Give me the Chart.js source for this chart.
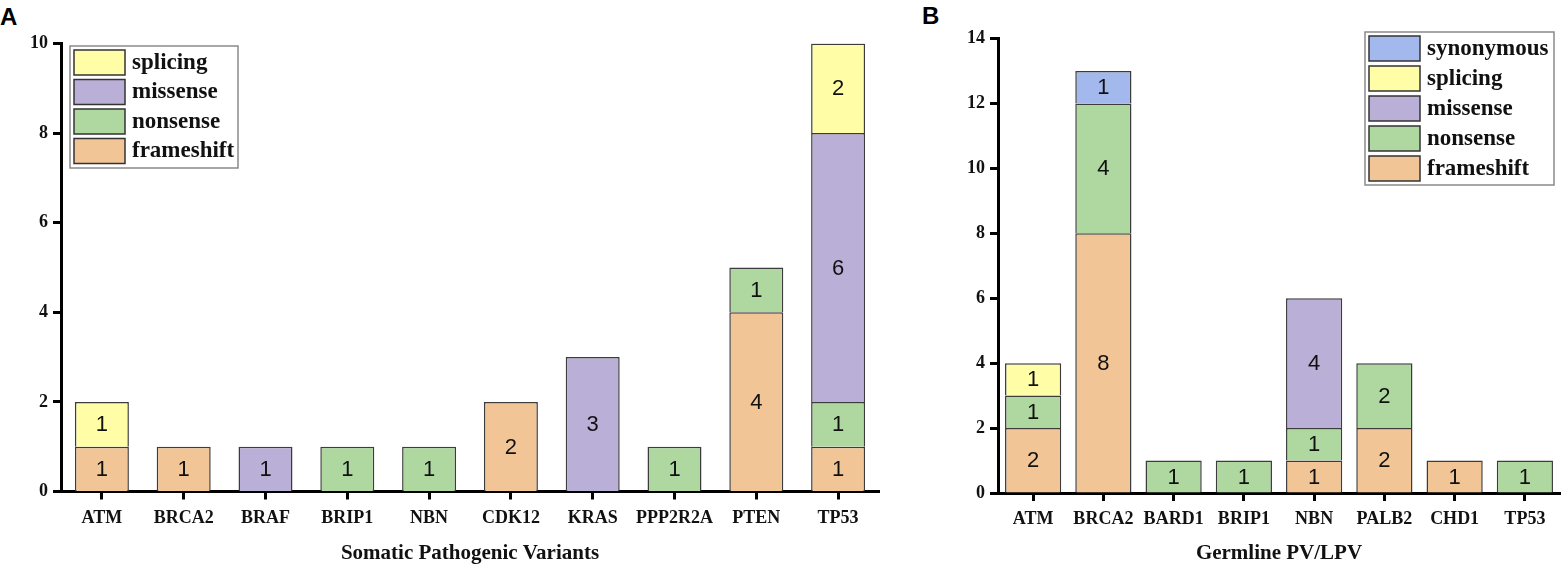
<!DOCTYPE html>
<html>
<head>
<meta charset="utf-8">
<script src="https://cdn.jsdelivr.net/npm/chart.js@4.4.0/dist/chart.umd.min.js"></script>
<style>
  html, body { margin: 0; padding: 0; background: #fff; }
  body { width: 1562px; height: 565px; position: relative; overflow: hidden; }
  .wrap { position: absolute; top: 0; height: 565px; }
  .tag { position: absolute; font: bold 24px "Liberation Sans", Arial, sans-serif; line-height: 1; color: #000; }
</style>
</head>
<body>
<div class="tag" style="left:0px;top:5px">A</div>
<div class="tag" style="left:922px;top:4px">B</div>
<div class="wrap" style="left:0px;width:905px"><canvas id="chartA"></canvas></div>
<div class="wrap" style="left:905px;width:657px"><canvas id="chartB"></canvas></div>
<script>
// Panel A - somatic
const somaticGenes = ['ATM', 'BRCA2', 'BRAF', 'BRIP1', 'NBN', 'CDK12', 'KRAS', 'PPP2R2A', 'PTEN', 'TP53'];
const somaticFrameshift = [1, 1, 0, 0, 0, 2, 0, 0, 4, 1];
const somaticNonsense   = [0, 0, 0, 1, 1, 0, 0, 1, 1, 1];
const somaticMissense   = [0, 0, 1, 0, 0, 0, 3, 0, 0, 6];
const somaticSplicing   = [1, 0, 0, 0, 0, 0, 0, 0, 0, 2];
const somaticTicks = [0, 2, 4, 6, 8, 10];

// Panel B - germline
const germlineGenes = ['ATM', 'BRCA2', 'BARD1', 'BRIP1', 'NBN', 'PALB2', 'CHD1', 'TP53'];
const germlineFrameshift = [2, 8, 0, 0, 1, 2, 1, 0];
const germlineNonsense   = [1, 4, 1, 1, 1, 2, 0, 1];
const germlineMissense   = [0, 0, 0, 0, 4, 0, 0, 0];
const germlineSplicing   = [1, 0, 0, 0, 0, 0, 0, 0];
const germlineSynonymous = [0, 1, 0, 0, 0, 0, 0, 0];
const germlineTicks = [0, 2, 4, 6, 8, 10, 12, 14];

const colors = {
    frameshift: '#F1C596',
    nonsense: '#AED8A0',
    missense: '#BAAFD6',
    splicing: '#FFFDA6',
    synonymous: '#A3B9EE',
};

const serif = '"Liberation Serif", "Times New Roman", serif';

// draw the count in the middle of every segment
const valueLabels = {
    id: 'valueLabels',
    afterDatasetsDraw(chart) {
        const ctx = chart.ctx;
        ctx.save();
        ctx.font = '22px "Liberation Sans", Arial, sans-serif';
        ctx.fillStyle = '#111';
        ctx.textAlign = 'center';
        ctx.textBaseline = 'middle';
        chart.data.datasets.forEach((ds, i) => {
            chart.getDatasetMeta(i).data.forEach((bar, j) => {
                const v = ds.data[j];
                if (!v) return;
                const p = bar.getProps(['x', 'y', 'base'], true);
                ctx.fillText(String(v), p.x, (p.y + p.base) / 2 + 1);
            });
        });
        ctx.restore();
    },
};

// boxed legend inside the plot, top item = last dataset
const boxLegend = {
    id: 'boxLegend',
    afterDraw(chart, args, opts) {
        const ctx = chart.ctx;
        const items = chart.data.datasets.slice().reverse();
        ctx.save();
        ctx.fillStyle = '#fff';
        ctx.fillRect(opts.x, opts.y, opts.w, opts.h);
        ctx.strokeStyle = '#8a8a8a';
        ctx.lineWidth = 1.5;
        ctx.strokeRect(opts.x, opts.y, opts.w, opts.h);
        ctx.font = 'bold 23px ' + serif;
        ctx.textAlign = 'left';
        ctx.textBaseline = 'middle';
        items.forEach((ds, k) => {
            const top = opts.y + 4 + k * opts.pitch;
            ctx.fillStyle = ds.backgroundColor;
            ctx.fillRect(opts.x + 4, top, 51, 25);
            ctx.strokeStyle = '#333';
            ctx.lineWidth = 1.5;
            ctx.strokeRect(opts.x + 4, top, 51, 25);
            ctx.fillStyle = '#111';
            ctx.fillText(ds.label, opts.x + 62, top + 13);
        });
        ctx.restore();
    },
};

const makeDataset = (label, values, barPct) => ({
    label: label,
    data: values.map((v) => (v ? v : null)),
    backgroundColor: colors[label],
    borderColor: '#3c3c3c',
    borderWidth: 1.5,
    barPercentage: barPct,
    categoryPercentage: 1,
});

const makeChart = (id, genes, datasets, ticks, title, box) => {
    new Chart(document.getElementById(id), {
        type: 'bar',
        data: { labels: genes, datasets: datasets },
        plugins: [valueLabels, boxLegend],
        options: {
            responsive: true,
            maintainAspectRatio: false,
            animation: false,
            layout: { padding: { left: 0, right: box.padRight, top: box.padTop, bottom: 0 } },
            plugins: {
                legend: { display: false },
                tooltip: { enabled: false },
                boxLegend: box.legend,
            },
            scales: {
                x: {
                    stacked: true,
                    offset: true,
                    grid: { drawOnChartArea: false, drawTicks: true, tickLength: 8, tickWidth: 3, tickColor: '#000', offset: false },
                    border: { color: '#000', width: 3 },
                    ticks: { color: '#111', font: { family: serif, weight: 'bold', size: 18 }, padding: 8, maxRotation: 0, autoSkip: false },
                    title: {
                        display: true,
                        text: title,
                        color: '#111',
                        font: { family: serif, weight: 'bold', size: 21, lineHeight: 1 },
                        padding: { top: 0, bottom: 1 },
                    },
                    afterFit(scale) { scale.height = box.xHeight; },
                },
                y: {
                    stacked: true,
                    min: ticks[0],
                    max: ticks[ticks.length - 1],
                    grid: { drawOnChartArea: false, drawTicks: true, tickLength: 8, tickWidth: 3, tickColor: '#000' },
                    border: { color: '#000', width: 3 },
                    ticks: { stepSize: ticks[1] - ticks[0], color: '#111', font: { family: serif, weight: 'bold', size: 18 }, padding: 5 },
                    afterFit(scale) { scale.width = box.yWidth; },
                },
            },
        },
    });
};

makeChart('chartA', somaticGenes, [
    makeDataset('frameshift', somaticFrameshift, 0.66),
    makeDataset('nonsense', somaticNonsense, 0.66),
    makeDataset('missense', somaticMissense, 0.66),
    makeDataset('splicing', somaticSplicing, 0.66),
], somaticTicks, 'Somatic Pathogenic Variants', {
    padRight: 26, padTop: 43.5, xHeight: 73.5, yWidth: 61,
    legend: { x: 70, y: 46, w: 168, h: 122, pitch: 29.5 },
});

makeChart('chartB', germlineGenes, [
    makeDataset('frameshift', germlineFrameshift, 0.8),
    makeDataset('nonsense', germlineNonsense, 0.8),
    makeDataset('missense', germlineMissense, 0.8),
    makeDataset('splicing', germlineSplicing, 0.8),
    makeDataset('synonymous', germlineSynonymous, 0.8),
], germlineTicks, 'Germline PV/LPV', {
    padRight: 2, padTop: 38.5, xHeight: 72, yWidth: 93,
    legend: { x: 460, y: 32, w: 189, h: 153, pitch: 30 },
});
</script>
</body>
</html>
